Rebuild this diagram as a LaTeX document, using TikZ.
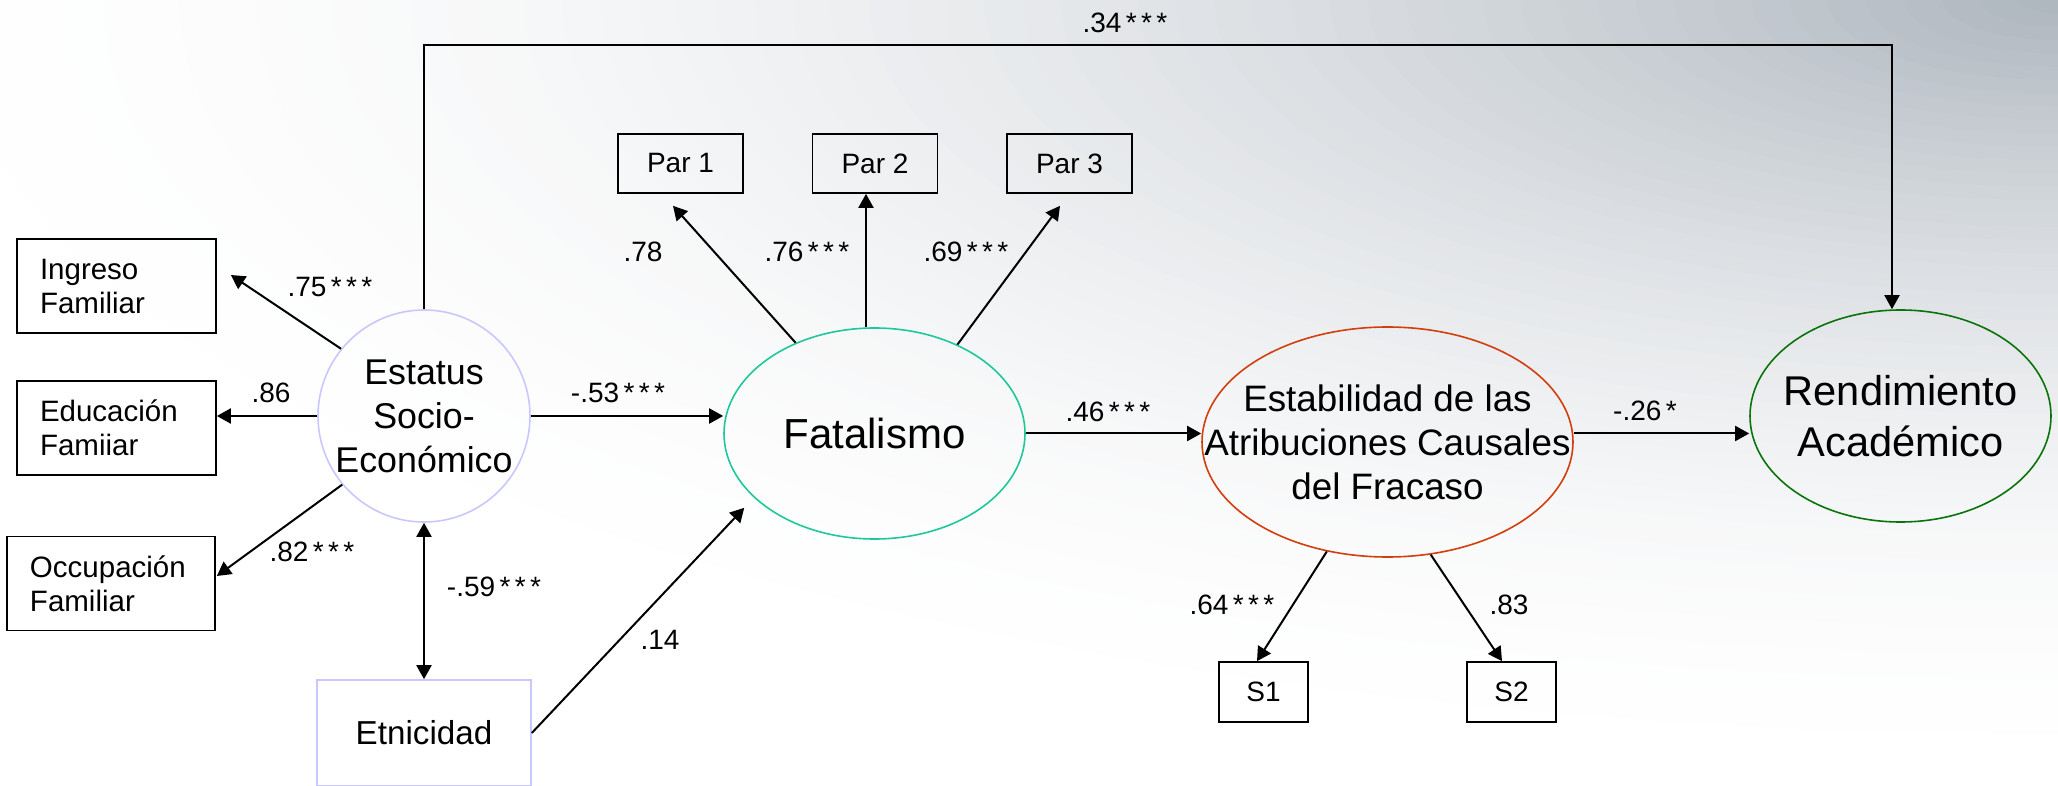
\documentclass[tikz,border=0pt]{standalone}
\usepackage{fontspec}
\setmainfont{Liberation Sans}
\usetikzlibrary{arrows.meta,shapes.geometric,calc}
\definecolor{lav}{RGB}{200,200,255}
\definecolor{tealc}{RGB}{30,200,155}
\definecolor{orred}{RGB}{210,62,12}
\definecolor{dgreen}{RGB}{10,115,10}
\definecolor{bgA}{RGB}{172,180,189}
\newcommand\tristar{\kern2.2pt*\kern2.2pt*\kern2.2pt*}
\newcommand\onestar{\kern2.2pt*}
\begin{document}
\begin{tikzpicture}[x=0.5pt,y=-0.5pt,
  arr/.style={line width=1pt,-{Triangle[length=7pt,width=7.5pt]}},
  dblarr/.style={line width=1pt,{Triangle[length=7pt,width=7.5pt]}-{Triangle[length=7pt,width=7.5pt]}},
  obsbox/.style={draw,line width=0.85pt,inner sep=0pt,font=\fontsize{14}{16}\selectfont},
  leftbox/.style={draw,line width=0.85pt,inner xsep=11.5pt,inner ysep=0pt,text width=#1,minimum height=47pt,align=left,font=\fontsize{14.75}{17}\selectfont},
  latent/.style={line width=0.8pt,inner sep=0pt},
  coef/.style={inner sep=0pt,font=\fontsize{14}{16}\selectfont},
  ltext/.style={inner sep=0pt,align=center}]
\useasboundingbox (0,0) rectangle (2058,786);
\fill[white] (0,0) rectangle (2058,786);
\begin{scope}
\clip (0,0) rectangle (2058,786);
\foreach \i in {60,59,...,1}{
  \pgfmathsetmacro\f{\i/60}
  \pgfmathsetmacro\m{100*(1-\f)^2}
  \fill[bgA!\m!white] (2058,0) ellipse [x radius=\f*1150pt, y radius=\f*400pt];
}
\end{scope}

% observed indicators of SES
\node[leftbox=76.5pt] (ing) at (116.5,286) {Ingreso\\Familiar};
\node[leftbox=76.5pt] (edu) at (116.5,428) {Educación\\Famiiar};
\node[leftbox=81pt] (occ) at (111,583.5) {Occupación\\Familiar};

% SES latent
\node[latent,draw=lav,circle,minimum size=106pt] (ses) at (424,416) {};
\node[ltext,font=\fontsize{17.9}{22}\selectfont] (tses) at (ses.center) {Estatus\\Socio-\\Económico};

% Etnicidad
\node[draw=lav,line width=0.8pt,inner sep=0pt,minimum width=107pt,minimum height=53pt,font=\fontsize{16.6}{20}\selectfont] (etn) at (424,733) {Etnicidad};

% Fatalismo
\node[latent,draw=tealc,ellipse,minimum width=150.5pt,minimum height=105.5pt] (fat) at (874.5,433.5) {};
\node[ltext,font=\fontsize{21}{25}\selectfont] (tfat) at (fat.center) {Fatalismo};

\node[obsbox,minimum width=62.5pt,minimum height=29.5pt] (par1) at (680.5,163.5) {Par 1};
\node[obsbox,minimum width=62.5pt,minimum height=29.5pt] (par2) at (875,163.5) {Par 2};
\node[obsbox,minimum width=62.5pt,minimum height=29.5pt] (par3) at (1069.5,163.5) {Par 3};

% Estabilidad
\node[latent,draw=orred,ellipse,minimum width=185.5pt,minimum height=115pt] (est) at (1387.5,442) {};
\node[ltext,font=\fontsize{18.4}{22}\selectfont] (test) at (est.center) {Estabilidad de las\\Atribuciones Causales\\del Fracaso};

\node[obsbox,minimum width=44.5pt,minimum height=30pt] (s1) at (1263.5,692) {S1};
\node[obsbox,minimum width=44.5pt,minimum height=30pt] (s2) at (1511.5,692) {S2};

% Rendimiento
\node[latent,draw=dgreen,ellipse,minimum width=150.5pt,minimum height=106pt] (rend) at (1900.5,416) {};
\node[ltext,font=\fontsize{20.8}{25.5}\selectfont] (trend) at (rend.center) {Rendimiento\\Académico};

% connectors
\draw[arr] (ses.141.5) -- ($(ing.east)+(14,-11)$);
\draw[arr] (ses.west) -- (ses.west -| edu.east);
\draw[arr] (ses.220) -- ($(occ.east)+(1,-7.5)$);
\draw[dblarr] (ses.south) -- (etn.north);
\draw[arr] (ses.east) -- (ses.east -| fat.west);
\draw[arr,shorten >=7pt] (etn.east) -- (fat.208);
\draw[arr] (fat.131.9) -- ($(par1.south)+(-7.5,12)$);
\draw[arr] ($(fat.north)+(-8.5,0)$) -- ($(par2.south)+(-9,0)$);
\draw[arr] (fat.47.4) -- ($(par3.south)+(-9.5,12)$);
\draw[arr] (fat.east) -- (fat.east -| est.west);
\draw[arr] (est.east |- fat.east) -- (fat.east -| rend.west);
\draw[arr] (est.241.9) -- ($(s1.north)+(-6.5,0)$);
\draw[arr] (est.291.2) -- ($(s2.north)+(-9.5,0)$);
\coordinate (tl) at (424,45);
\coordinate (tr) at (1892,45);
\draw[arr] (ses.north) -- (tl) -- (tr) -- (tr |- rend.north);

% coefficients
\node[coef] (c34) at (1125,23) {.34\tristar};
\node[coef] (c75) at (330,287) {.75\tristar};
\node[coef] (c86) at (271,393) {.86};
\node[coef] (c82) at (312,552) {.82\tristar};
\node[coef] (c59) at (494,587) {-.59\tristar};
\node[coef] (c53) at (618,393) {-.53\tristar};
\node[coef] (c14) at (660,640) {.14};
\node[coef] (c78) at (643,252) {.78};
\node[coef] (c76) at (807,252) {.76\tristar};
\node[coef] (c69) at (966,252) {.69\tristar};
\node[coef] (c46) at (1108,412) {.46\tristar};
\node[coef] (c64) at (1232,605) {.64\tristar};
\node[coef] (c83) at (1509,605) {.83};
\node[coef] (c26) at (1645,411) {-.26\onestar};
\end{tikzpicture}
\end{document}
